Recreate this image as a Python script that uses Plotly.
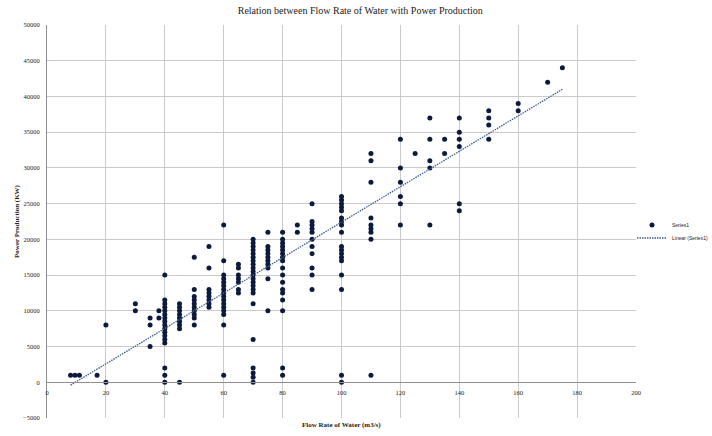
import plotly.graph_objects as go

# Flow rate groups (m3/s) and the power values (KW) observed at each flow rate
flow_groups = [8, 9.5, 11, 17, 20, 30, 35, 38, 40, 45, 50, 55, 60, 65, 70, 75, 80, 85,
               90, 100, 110, 120, 125, 130, 135, 140, 150, 160, 170, 175]
power_groups = [
    [1000],
    [1000],
    [1000],
    [1000],
    [0, 8000],
    [10000, 11000],
    [5000, 8000, 9000],
    [9000, 10000],
    [0, 1000, 2000, 5500, 6000, 6500, 7000, 7500, 8000, 8500, 9000, 9500, 10000, 10500, 11000, 11500, 15000],
    [0, 7500, 8000, 8500, 9000, 9500, 10000, 10500, 11000],
    [8000, 9000, 9500, 10000, 10500, 11000, 11500, 12000, 13000, 17500],
    [10500, 11000, 11500, 12000, 12500, 13000, 16000, 19000],
    [1000, 8000, 9500, 10000, 10500, 11000, 11500, 12000, 12500, 13000, 13500, 14000, 14500, 15000, 17000, 22000],
    [12500, 13000, 14000, 14500, 15000, 16000, 16500],
    [0, 700, 1300, 2000, 6000, 11000, 12500, 13000, 13500, 14000, 14500, 15000, 15500, 16000, 16500,
     17000, 17500, 18000, 18500, 19000, 19500, 20000],
    [10000, 14500, 16000, 16500, 17000, 17500, 18000, 18500, 19000, 21000],
    [1000, 2000, 10000, 11500, 12500, 13000, 14000, 15000, 16000, 17000, 17500, 18000, 18500, 19000,
     19500, 20000, 21000],
    [21000, 22000],
    [13000, 15000, 16000, 18000, 19000, 20000, 21000, 21500, 22000, 22500, 25000],
    [0, 1000, 13000, 15000, 17000, 17500, 18000, 18500, 19000, 21000, 22000, 22500, 23000, 24000,
     24500, 25000, 25500, 26000],
    [1000, 20000, 21000, 21500, 22000, 23000, 28000, 31000, 32000],
    [22000, 25000, 26000, 28000, 30000, 34000],
    [32000],
    [22000, 30000, 31000, 34000, 37000],
    [32000, 34000],
    [24000, 25000, 33000, 34000, 35000, 37000],
    [34000, 36000, 37000, 38000],
    [38000, 39000],
    [42000],
    [44000],
]

# Linear trendline end values
trend_flow = [8, 175]
trend_power = [-400, 41000]

x_ticks = [0, 20, 40, 60, 80, 100, 120, 140, 160, 180, 200]
y_ticks = list(range(-5000, 50001, 5000))

flow = [f for f, ps in zip(flow_groups, power_groups) for _ in ps]
power = [p for ps in power_groups for p in ps]

FONT = "Liberation Serif"
grid = "#cacaca"
axis_c = "#8f8f8f"

fig = go.Figure()
fig.add_trace(go.Scatter(
    x=flow, y=power, mode="markers", name="Series1", showlegend=True,
    marker=dict(size=5, color="#0c1a3d"), legend="legend",
))
fig.add_trace(go.Scatter(
    x=trend_flow, y=trend_power, mode="lines", name="Linear (Series1)", showlegend=True,
    line=dict(color="#3d5f8f", width=1.3, dash="1.5px,1px"), legend="legend2",
))

fig.update_layout(
    width=712, height=436, autosize=False, showlegend=True,
    margin=dict(l=47, r=76, t=25, b=18, autoexpand=False),
    paper_bgcolor="white", plot_bgcolor="white",
    font=dict(family=FONT, color="#222222"),
    title=dict(text="Relation between Flow Rate of Water with Power Production",
               x=0.506, xanchor="center", y=1 - 10 / 436, yanchor="middle",
               font=dict(size=10, family=FONT, color="#222222")),
    xaxis=dict(range=[0, 200], tickvals=x_ticks, showgrid=True, gridcolor=grid, gridwidth=1,
               showline=True, linecolor=axis_c, linewidth=1, zeroline=False,
               anchor="free", position=5000 / 55000,
               ticks="outside", ticklen=4, tickcolor="rgba(0,0,0,0)",
               tickfont=dict(size=6.5, family=FONT, color="#222222")),
    yaxis=dict(range=[-5000, 50000], tickvals=y_ticks, tickformat="d", showgrid=True,
               gridcolor=grid, gridwidth=1, showline=True, linecolor=axis_c, linewidth=1,
               zeroline=False, ticks="outside", ticklen=5, tickcolor="rgba(0,0,0,0)",
               tickfont=dict(size=6.5, family=FONT, color="#222222"),
               title=dict(text="<b>Power Production (KW)</b>", standoff=2,
                          font=dict(size=7, family=FONT, color="#222222"))),
    legend=dict(xref="container", yref="container", x=632 / 712, y=1 - 225 / 436,
                xanchor="left", yanchor="middle", bgcolor="rgba(0,0,0,0)",
                font=dict(size=5, family="Liberation Sans", color="#222222")),
    legend2=dict(xref="container", yref="container", x=632 / 712, y=1 - 238 / 436,
                 xanchor="left", yanchor="middle", bgcolor="rgba(0,0,0,0)", visible=True,
                 font=dict(size=5, family="Liberation Sans", color="#222222")),
    annotations=[dict(text="<b>Flow Rate of Water (m3/s)</b>", xref="paper", yref="paper",
                      x=0.5, y=-0.018, xanchor="center", yanchor="middle", showarrow=False,
                      font=dict(size=7, family=FONT, color="#222222"))],
)

fig.write_html("out.html", config={"displayModeBar": False},
               post_script="document.body.style.margin='0px';")
